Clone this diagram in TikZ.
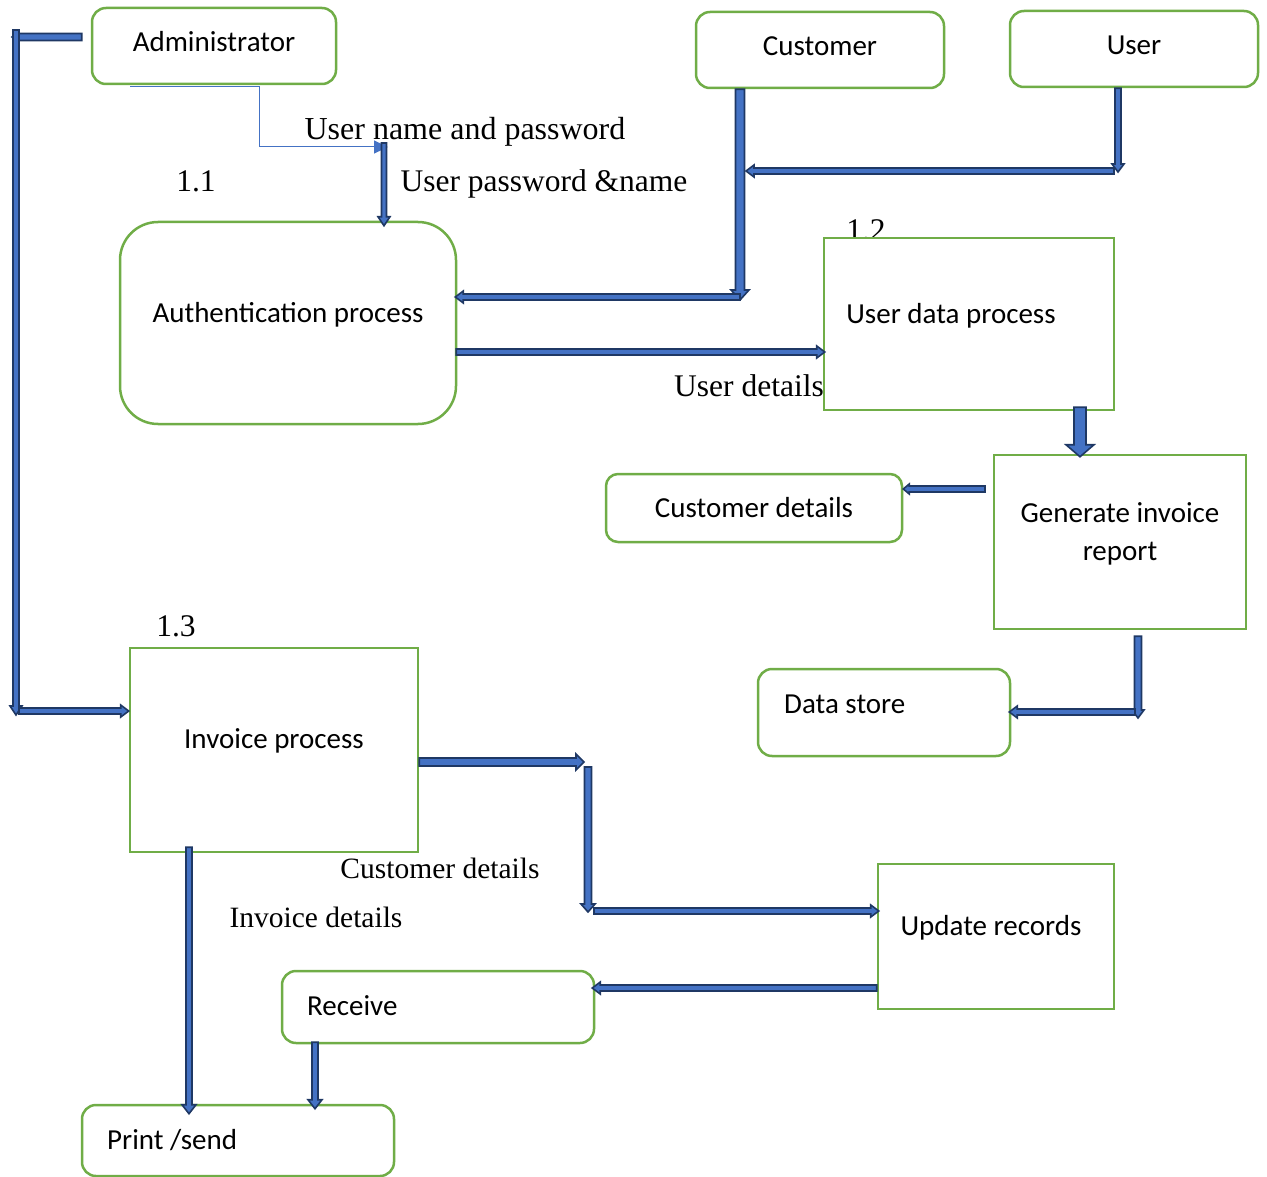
\documentclass[tikz,border=0pt]{standalone}
\usepackage{fontspec}
\setmainfont{Liberation Serif}
\newfontfamily\boxfont{Carlito}
\usetikzlibrary{calc,arrows.meta}
\definecolor{boxgreen}{HTML}{70AD47}
\definecolor{arrfill}{HTML}{4472C4}
\definecolor{arrline}{HTML}{1F3864}

\tikzset{
  ent/.style={draw=boxgreen, line width=2.5pt, rounded corners=14pt, fill=white, inner sep=0pt},
  proc/.style={draw=boxgreen, line width=2.5pt, fill=white, inner sep=0pt},
  boxtxt/.style={font=\boxfont\fontsize{29}{38}\selectfont, inner sep=0pt, align=center},
  flowtxt/.style={font=\fontsize{31.5}{36}\selectfont, inner sep=0pt},
  smallflow/.style={font=\fontsize{29.5}{34}\selectfont, inner sep=0pt},
  barrow/.style={fill=arrfill, draw=arrline, line width=1.6pt, line join=miter},
}

% block arrow: #1 half shaft width, #2 half head width, #3 head length, #4 tail, #5 tip
\newcommand\blockarr[5]{%
  \path #4 coordinate (ba-a) #5 coordinate (ba-b);
  \coordinate (ba-h) at ($(ba-b)!#3!(ba-a)$);
  \filldraw[barrow] ($(ba-a)!#1!90:(ba-b)$) -- ($(ba-h)!#1!90:(ba-b)$)
    -- ($(ba-h)!#2!90:(ba-b)$) -- (ba-b) -- ($(ba-h)!#2!-90:(ba-b)$)
    -- ($(ba-h)!#1!-90:(ba-b)$) -- ($(ba-a)!#1!-90:(ba-b)$) -- cycle;
}

\begin{document}
\begin{tikzpicture}[x=1pt, y=-1pt]
\useasboundingbox (0,0) rectangle (1267,1177);

% flow labels and process numbers
\node[flowtxt, font=\fontsize{32}{36}\selectfont] (lbl-unp) at (465,132) {User name and password};
\node[flowtxt] (num11) at (196,181) {1.1};
\node[flowtxt] (lbl-upn) at (544,184) {User password \&name};
\node[flowtxt, anchor=base] (num12) at (866,241) {1.2};
\node[flowtxt] (lbl-ud) at (749,386) {User details};
\node[flowtxt] (num13) at (176,626) {1.3};
\node[smallflow] (lbl-cd) at (440,868) {Customer details};
\node[smallflow] (lbl-id) at (316,917) {Invoice details};

% external entities and processes
\node[ent, minimum width=244, minimum height=76] (admin) at (214,46) {};
\node[boxtxt] at (214,42) {Administrator};
\node[ent, minimum width=248, minimum height=76] (cust) at (820,50) {};
\node[boxtxt] at (820,46) {Customer};
\node[ent, minimum width=248, minimum height=76] (user) at (1134,49) {};
\node[boxtxt] at (1134,45) {User};
\node[ent, rounded corners=38pt, minimum width=336, minimum height=202] (auth) at (288,323) {};
\node[boxtxt] at (288,315) {Authentication process};
\node[proc, minimum width=290, minimum height=172] (udp) at (969,324) {};
\node[boxtxt] at (951,316) {User data process};
\node[proc, minimum width=252, minimum height=174] (gen) at (1120,542) {};
\node[boxtxt] at (1120,534) {Generate invoice\\report};
\node[ent, rounded corners=12pt, minimum width=296, minimum height=68] (custd) at (754,508) {};
\node[boxtxt] at (754,508) {Customer details};
\node[ent, minimum width=252, minimum height=87] (dstore) at (884,712.5) {};
\node[boxtxt, anchor=west] at (784,704) {Data store};
\node[proc, minimum width=288, minimum height=204] (inv) at (274,750) {};
\node[boxtxt] at (274,741) {Invoice process};
\node[proc, minimum width=236, minimum height=145] (upd) at (996,936.5) {};
\node[boxtxt] at (991,928) {Update records};
\node[ent, minimum width=312, minimum height=72] (recv) at (438,1007) {};
\node[boxtxt, anchor=west] at (307,1006) {Receive};
\node[ent, minimum width=312, minimum height=71] (print) at (238,1140.5) {};
\node[boxtxt, anchor=west] at (107,1140) {Print /send};

% bend points of the flows
\coordinate (adm-l) at (12,37);
\coordinate (adm-v) at (16,30);
\coordinate (adm-b) at (16,715);
\coordinate (adm-h) at (19,711);
\coordinate (thin-a) at (130,87);
\coordinate (thin-b) at (388,147);
\coordinate (auth-in) at (384,143);
\coordinate (cust-b) at (740,300);
\coordinate (user-b) at (1118,172);
\coordinate (user-h) at (1114,171);
\coordinate (cust-h) at (746,171);
\coordinate (cust-h2) at (740,297);
\coordinate (gen-out) at (985,489);
\coordinate (gen-b) at (1138,718);
\coordinate (gen-h) at (1135,712);
\coordinate (inv-r) at (584,762);
\coordinate (inv-v) at (588,767);
\coordinate (inv-vb) at (588,912);
\coordinate (inv-h) at (594,911);

% thin login flow
\draw[arrfill, line width=1pt, -{Triangle[length=14pt,width=13pt]}]
  (thin-a) -| (259,147) -- (thin-b);

% block arrows
\blockarr{3.5pt}{4pt}{5pt}{(admin.west |- adm-l)+(-9,0)}{(adm-l)}
\blockarr{3pt}{6pt}{9pt}{(adm-v)}{(adm-b)}
\blockarr{3pt}{6pt}{8pt}{(adm-h)}{(inv.west |- adm-h)}
\blockarr{2.5pt}{6pt}{9pt}{(auth-in)}{($(auth.north -| auth-in)+(0,5)$)}
\blockarr{4.5pt}{9pt}{10pt}{(cust.south -| cust-b)}{(cust-b)}
\blockarr{3pt}{6pt}{8pt}{(user.south -| user-b)}{(user-b)}
\blockarr{3pt}{6pt}{8pt}{(user-h)}{(cust-h)}
\blockarr{3pt}{6pt}{8pt}{(cust-h2)}{($(auth.east |- cust-h2)+(-2,0)$)}
\blockarr{3pt}{6pt}{8pt}{($(auth.east |- 0,352)+(-1,0)$)}{($(udp.west |- 0,352)+(2,0)$)}
\blockarr{6pt}{14pt}{12pt}{($(udp.south -| 1080,0)+(0,-4)$)}{($(gen.north -| 1080,0)+(0,3)$)}
\blockarr{3pt}{5pt}{6pt}{(gen-out)}{(custd.east |- gen-out)}
\blockarr{3.5pt}{6pt}{8pt}{($(gen.south -| gen-b)+(0,6)$)}{(gen-b)}
\blockarr{3pt}{6pt}{8pt}{(gen-h)}{($(dstore.east |- gen-h)+(-2,0)$)}
\blockarr{4pt}{8pt}{8pt}{(inv.east |- inv-r)}{(inv-r)}
\blockarr{3.5pt}{7pt}{8pt}{(inv-v)}{(inv-vb)}
\blockarr{3pt}{6pt}{8pt}{(inv-h)}{($(upd.west |- inv-h)+(2,0)$)}
\blockarr{3pt}{6pt}{8pt}{(upd.west |- 0,988)}{($(recv.east |- 0,988)+(-3,0)$)}
\blockarr{3pt}{7pt}{9pt}{($(inv.south -| 189,0)+(0,-6)$)}{($(print.north -| 189,0)+(0,10)$)}
\blockarr{3pt}{7pt}{9pt}{($(recv.south -| 315,0)+(0,-2)$)}{($(print.north -| 315,0)+(0,5)$)}
\end{tikzpicture}
\end{document}
